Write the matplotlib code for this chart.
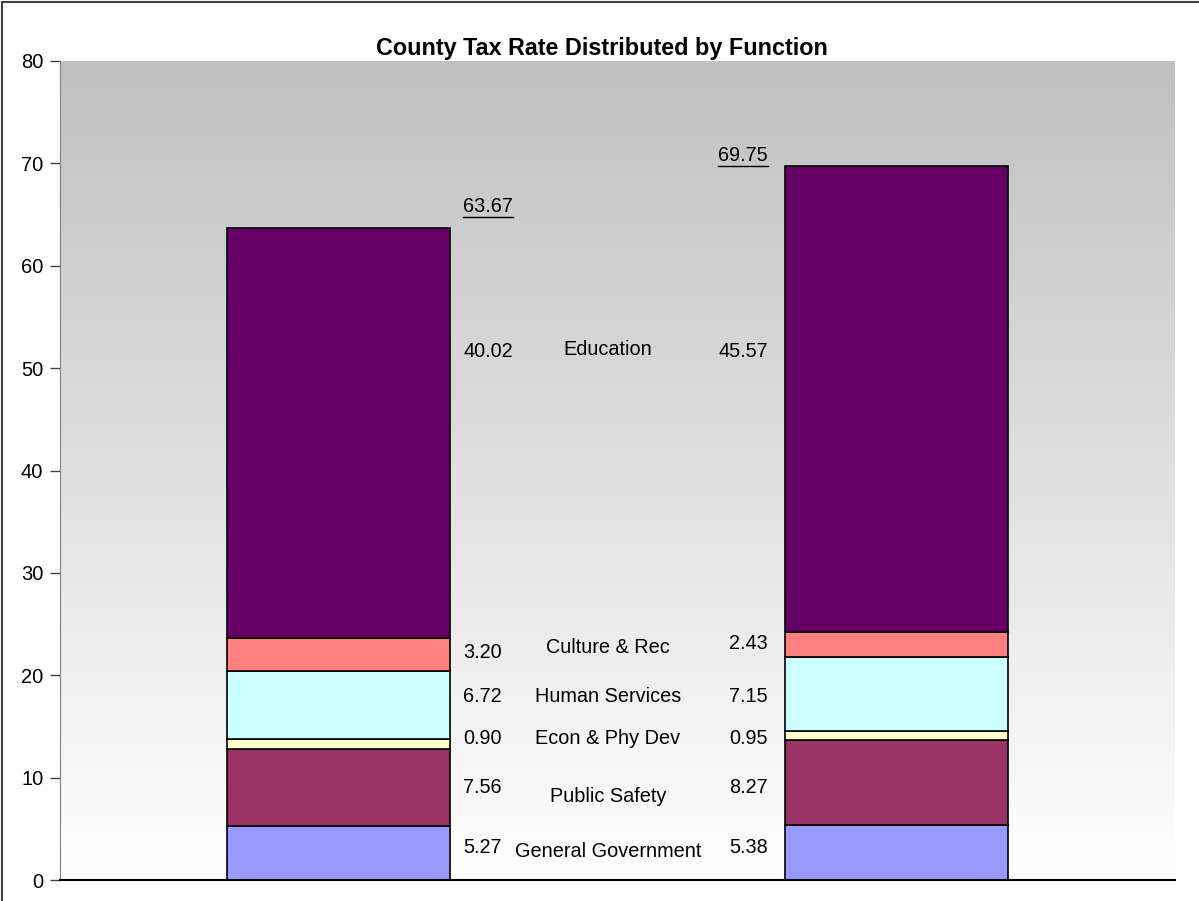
import matplotlib.pyplot as plt
from matplotlib.lines import Line2D
import numpy as np

plt.rcParams['font.family'] = ['Liberation Sans', 'DejaVu Sans']

years = ['Year 1', 'Year 2']
functions = ['General Government', 'Public Safety', 'Econ & Phy Dev',
             'Human Services', 'Culture & Rec', 'Education']
rates_1 = [5.27, 7.56, 0.90, 6.72, 3.20, 40.02]
rates_2 = [5.38, 8.27, 0.95, 7.15, 2.43, 45.57]
colors = ['#9999FF', '#993366', '#FFFFCC', '#CCFFFF', '#FF8080', '#660066']

# vertical spots for the text column between the bars
label_y = [2.8, 8.2, 13.8, 17.9, 22.7, 51.8]
value_y_1 = [3.2, 9.0, 13.8, 17.9, 22.2, 51.6]
value_y_2 = [3.2, 9.0, 13.8, 17.9, 23.1, 51.6]

fig = plt.figure(figsize=(11.99, 9.01), dpi=100)
ax = fig.add_axes([60 / 1199, 21 / 901, 1115 / 1199, 819 / 901])

# grey-to-white background
grad = np.linspace(0, 1, 256).reshape(-1, 1)
top = np.array([0xC0, 0xC0, 0xC0]) / 255.0
img = top + (1 - top) * grad[..., None] * np.ones(3)
ax.imshow(img, extent=(-0.5, 1.5, 0, 80), aspect='auto', origin='upper', zorder=0)

x = np.arange(2)
bottoms = np.zeros(2)
for i, name in enumerate(functions):
    vals = np.array([rates_1[i], rates_2[i]])
    ax.bar(x, vals, 0.4, bottom=bottoms, color=colors[i],
           edgecolor='black', linewidth=1.2, zorder=2)
    bottoms += vals

fs = 14.3
for i, name in enumerate(functions):
    ax.text(0.223, value_y_1[i], '%.2f' % rates_1[i], ha='left', va='center', fontsize=fs)
    ax.text(0.770, value_y_2[i], '%.2f' % rates_2[i], ha='right', va='center', fontsize=fs)
    ax.text(0.483, label_y[i], name, ha='center', va='center', fontsize=fs)

totals = [sum(rates_1), sum(rates_2)]
t1 = ax.text(0.223, 65.8, '%.2f' % totals[0], ha='left', va='center', fontsize=fs)
t2 = ax.text(0.770, 70.8, '%.2f' % totals[1], ha='right', va='center', fontsize=fs)

ax.set_xlim(-0.5, 1.5)
ax.set_ylim(0, 80)
ax.set_yticks(range(0, 81, 10))
ax.set_xticks([])
ax.tick_params(axis='y', length=7, width=1, labelsize=14.5, pad=5, color='#404040')
ax.spines['top'].set_visible(False)
ax.spines['right'].set_visible(False)
ax.spines['left'].set_color('#808080')
ax.spines['bottom'].set_linewidth(1.5)

fig.text(602 / 1199, 1 - 48 / 901, 'County Tax Rate Distributed by Function',
         ha='center', va='center', fontsize=16.8, fontweight='bold')

# underline the totals
fig.canvas.draw()
r = fig.canvas.get_renderer()
for t in (t1, t2):
    bb = t.get_window_extent(r)
    y = bb.y0 - 1
    fig.add_artist(Line2D([bb.x0 / 1199, bb.x1 / 1199], [y / 901, y / 901],
                          color='black', linewidth=1, transform=fig.transFigure))

# outer frame on the left and top
fig.add_artist(Line2D([0.002, 0.002], [0, 0.998], color='#404040', linewidth=1.5))
fig.add_artist(Line2D([0.002, 1], [0.998, 0.998], color='#404040', linewidth=1.5))

fig.savefig('out.png', dpi=100)
